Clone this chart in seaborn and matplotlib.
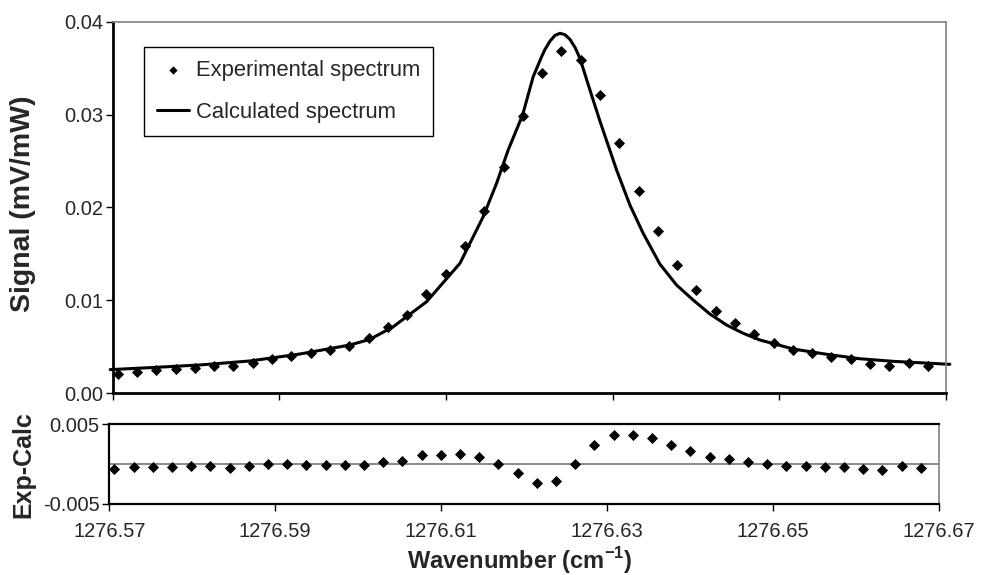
import matplotlib
matplotlib.use("Agg")
import matplotlib.pyplot as plt
import seaborn as sns
import pandas as pd
from matplotlib.ticker import FormatStrFormatter, FixedLocator

# ---------------- data ----------------
wavenumber = [1276.57060, 1276.57292, 1276.57523, 1276.57755, 1276.57986, 1276.58218,
              1276.58449, 1276.58681, 1276.58912, 1276.59144, 1276.59375, 1276.59607,
              1276.59838, 1276.60070, 1276.60301, 1276.60533, 1276.60764, 1276.60996,
              1276.61227, 1276.61459, 1276.61690, 1276.61922, 1276.62153, 1276.62385,
              1276.62616, 1276.62848, 1276.63079, 1276.63311, 1276.63542, 1276.63774,
              1276.64005, 1276.64237, 1276.64468, 1276.64700, 1276.64931, 1276.65163,
              1276.65394, 1276.65626, 1276.65857, 1276.66089, 1276.66320, 1276.66552,
              1276.66783]
experimental = [0.00208, 0.00233, 0.00248, 0.00258, 0.00276, 0.00294, 0.00297, 0.00326,
                0.00372, 0.00398, 0.00437, 0.00463, 0.00509, 0.00592, 0.00710, 0.00846,
                0.01066, 0.01287, 0.01589, 0.01966, 0.02439, 0.02988, 0.03451, 0.03681,
                0.03585, 0.03208, 0.02694, 0.02178, 0.01747, 0.01384, 0.01115, 0.00886,
                0.00753, 0.00635, 0.00545, 0.00466, 0.00431, 0.00388, 0.00366, 0.00315,
                0.00294, 0.00326, 0.00294]
residual = [-0.00059, -0.00042, -0.00042, -0.00042, -0.00029, -0.00029, -0.00046, -0.00029,
            -0.00004, -0.00004, -0.00008, -0.00017, -0.00017, -0.00008, 0.00025, 0.00042,
            0.00109, 0.00117, 0.00121, 0.00088, 0.00004, -0.00105, -0.00234, -0.00209,
            0.00000, 0.00238, 0.00368, 0.00368, 0.00330, 0.00242, 0.00171, 0.00088,
            0.00067, 0.00025, 0.00000, -0.00029, -0.00029, -0.00042, -0.00038, -0.00067,
            -0.00071, -0.00025, -0.00046]

calc_wavenumber = [1276.56970, 1276.57448, 1276.58047, 1276.58647, 1276.59247, 1276.59847,
                   1276.60087, 1276.60367, 1276.60767, 1276.61167, 1276.61446, 1276.61607,
                   1276.61746, 1276.61919, 1276.62046, 1276.62147, 1276.62187, 1276.62247,
                   1276.62307, 1276.62367, 1276.62427, 1276.62487, 1276.62547, 1276.62607,
                   1276.62727, 1276.62847, 1276.63047, 1276.63207, 1276.63366, 1276.63567,
                   1276.63767, 1276.63966, 1276.64166, 1276.64367, 1276.64566, 1276.64766,
                   1276.65166, 1276.65567, 1276.65966, 1276.66366, 1276.67046]
calculated = [0.00255, 0.00276, 0.00305, 0.00348, 0.00423, 0.00520,
              0.00581, 0.00717, 0.00986, 0.01399, 0.01901, 0.02261,
              0.02619, 0.02996, 0.03408, 0.03623, 0.03700, 0.03790,
              0.03852, 0.03875, 0.03860, 0.03810, 0.03725, 0.03606,
              0.03265, 0.02930, 0.02403, 0.02026, 0.01722, 0.01390,
              0.01165, 0.01004, 0.00854, 0.00735, 0.00646, 0.00574,
              0.00477, 0.00420, 0.00372, 0.00344, 0.00312]

x_ticks = [1276.57, 1276.59, 1276.61, 1276.63, 1276.65, 1276.67]
top_yticks = [0.00, 0.01, 0.02, 0.03, 0.04]
bottom_yticks = [-0.005, 0.005]

df_exp = pd.DataFrame({"wavenumber": wavenumber, "signal": experimental, "residual": residual})
df_calc = pd.DataFrame({"wavenumber": calc_wavenumber, "signal": calculated})

# ---------------- style ----------------
sns.set_theme(style="white")
plt.rcParams["font.family"] = ["Liberation Sans", "DejaVu Sans"]
plt.rcParams["mathtext.fontset"] = "custom"
plt.rcParams["mathtext.rm"] = "Liberation Sans"
plt.rcParams["mathtext.bf"] = "Liberation Sans:bold"

fig = plt.figure(figsize=(9.94, 5.75), dpi=100)
ax1 = fig.add_axes([0.1134, 0.316, 0.9517 - 0.1134, 0.9623 - 0.316])
ax2 = fig.add_axes([0.1100, 0.1235, 0.9444 - 0.1100, 0.2621 - 0.1235])

tick_fs = 14.5
legend_fs = 15.8

# ---- top panel ----
sns.scatterplot(data=df_exp, x="wavenumber", y="signal", ax=ax1, marker="D", s=32,
                color="black", edgecolor="black", linewidth=0, label="Experimental spectrum",
                zorder=3)
sns.lineplot(data=df_calc, x="wavenumber", y="signal", ax=ax1, color="black", lw=2.2,
             sort=False, estimator=None, label="Calculated spectrum", zorder=2)
for ln in ax1.lines:
    ln.set_clip_on(False)

ax1.set_xlim(1276.57, 1276.67)
ax1.set_ylim(0.0, 0.04)
ax1.xaxis.set_major_locator(FixedLocator(x_ticks))
ax1.yaxis.set_major_locator(FixedLocator(top_yticks))
ax1.yaxis.set_major_formatter(FormatStrFormatter("%.2f"))
ax1.tick_params(axis="x", which="major", direction="out", length=5, width=1,
                color="black", labelbottom=False, bottom=True)
ax1.tick_params(axis="y", which="major", direction="out", length=5, width=1,
                color="black", labelsize=tick_fs, left=True, pad=2)
ax1.set_xlabel("")
ax1.set_ylabel("")
for side in ["left", "bottom"]:
    ax1.spines[side].set_color("black")
    ax1.spines[side].set_linewidth(2.0)
for side in ["top", "right"]:
    ax1.spines[side].set_color("#808080")
    ax1.spines[side].set_linewidth(1.2)

h, l = ax1.get_legend_handles_labels()
leg = ax1.legend(h, l, loc="upper left", bbox_to_anchor=(0.0376, 0.932), borderaxespad=0,
                 fontsize=legend_fs, frameon=True, fancybox=False, edgecolor="black",
                 framealpha=1, borderpad=0.6, handlelength=1.45, handletextpad=0.3,
                 labelspacing=0.95, markerscale=0.75)
leg.get_frame().set_linewidth(1.0)

# ---- bottom panel ----
ax2.axhline(0, color="#808080", lw=1.3, zorder=1)
sns.scatterplot(data=df_exp, x="wavenumber", y="residual", ax=ax2, marker="D", s=32,
                color="black", edgecolor="black", linewidth=0, zorder=3, legend=False)
ax2.set_xlim(1276.57, 1276.67)
ax2.set_ylim(-0.005, 0.005)
ax2.xaxis.set_major_locator(FixedLocator(x_ticks))
ax2.xaxis.set_major_formatter(FormatStrFormatter("%.2f"))
ax2.yaxis.set_major_locator(FixedLocator(bottom_yticks))
ax2.yaxis.set_major_formatter(FormatStrFormatter("%.3f"))
ax2.tick_params(axis="x", which="major", direction="out", length=5, width=1,
                color="black", labelsize=tick_fs, bottom=True, pad=8)
ax2.tick_params(axis="y", which="major", direction="out", length=5, width=1,
                color="black", labelsize=tick_fs, left=True, pad=2)
ax2.set_xlabel("")
ax2.set_ylabel("")
for side in ["left", "bottom", "top"]:
    ax2.spines[side].set_color("black")
    ax2.spines[side].set_linewidth(1.6)
ax2.spines["right"].set_color("#808080")
ax2.spines["right"].set_linewidth(1.2)

# ---- axis labels ----
fig.text(23 / 994, 1 - 204 / 575, "Signal (mV/mW)", rotation=90, ha="center", va="center",
         fontsize=20.5, fontweight="bold")
fig.text(23 / 994, 1 - 465 / 575, "Exp-Calc", rotation=90, ha="center", va="center",
         fontsize=18, fontweight="bold")
fig.text(520 / 994, 1 - 561 / 575, r"Wavenumber (cm$^{\mathbf{-1}}$)", ha="center",
         va="center", fontsize=17, fontweight="bold")

fig.savefig("out.png", dpi=100)
